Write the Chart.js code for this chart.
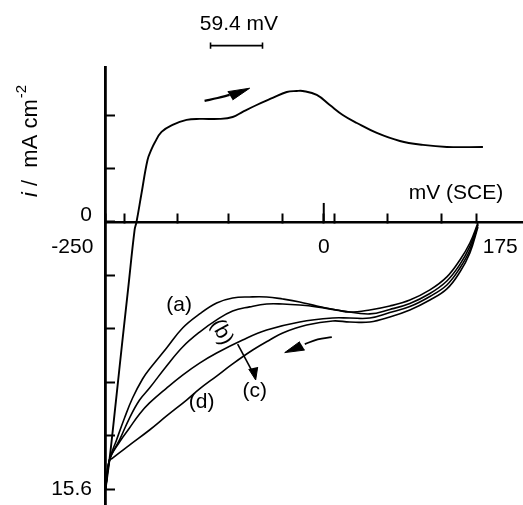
<!DOCTYPE html>
<html><head><meta charset="utf-8">
<style>html,body{margin:0;padding:0;background:#fff;}canvas{display:block;}</style>
<script src="https://cdn.jsdelivr.net/npm/chart.js"></script>
</head><body>
<canvas id="c" width="523" height="505"></canvas>
<script>
// ---------- data (potential in mV vs SCE, current density in mA cm^-2) ----------
const forwardMV = [-249.4, -244.9, -237.4, -230.0, -223.7, -216.2, -214.0, -208.2, -201.4, -196.8, -193.4, -185.4, -172.8, -156.8, -141.9, -119.0, -104.1, -92.7, -76.7, -58.4, -42.3, -30.9, -24.0, -8.0, 6.9, 21.7, 37.8, 60.6, 87.0, 113.3, 140.7, 181.9];
const forwardI  = [-15.60, -13.90, -10.40, -6.89, -3.97, -0.47, 0, 1.69, 3.62, 4.25, 4.61, 5.26, 5.67, 5.96, 6.02, 6.02, 6.13, 6.43, 6.83, 7.24, 7.59, 7.65, 7.65, 7.42, 6.83, 6.25, 5.78, 5.20, 4.73, 4.50, 4.38, 4.38];

const aMV = [-249.4, -244.9, -236.8, -227.7, -218.5, -207.1, -199.1, -179.6, -161.3, -141.9, -122.4, -104.1, -84.7, -65.2, -46.9, -27.5, -8.0, 14.9, 29.7, 52.6, 75.5, 98.4, 121.3, 140.7, 155.6, 167.0, 176.2];
const aI  = [-15.60, -13.90, -12.73, -11.45, -10.28, -9.17, -8.59, -7.36, -6.19, -5.37, -4.73, -4.44, -4.38, -4.38, -4.50, -4.67, -4.91, -5.14, -5.26, -5.14, -4.91, -4.56, -3.97, -3.21, -2.22, -1.23, -0.06];

const bMV = [-249.4, -244.9, -233.4, -222.0, -210.5, -199.1, -179.6, -161.3, -141.9, -122.4, -104.1, -84.7, -65.2, -46.9, -27.5, -8.0, 21.7, 52.6, 75.5, 98.4, 121.3, 140.7, 155.6, 167.0, 176.2];
const bI  = [-15.60, -13.90, -12.73, -11.45, -10.40, -9.70, -8.41, -7.30, -6.43, -5.72, -5.20, -4.96, -4.79, -4.79, -4.85, -4.96, -5.20, -5.37, -5.11, -4.76, -4.18, -3.45, -2.48, -1.43, -0.12];

const cMV = [-249.4, -244.9, -233.4, -222.0, -210.5, -199.1, -179.6, -161.3, -141.9, -122.4, -92.7, -65.2, -27.5, 10.3, 29.7, 52.6, 75.5, 98.4, 121.3, 140.7, 155.6, 167.0, 176.2];
const cI  = [-15.60, -13.90, -12.85, -12.03, -11.21, -10.57, -9.70, -8.94, -8.24, -7.65, -6.89, -6.31, -5.84, -5.61, -5.61, -5.61, -5.29, -4.94, -4.35, -3.68, -2.69, -1.64, -0.18];

const dMV = [-249.4, -244.9, -241.4, -222.0, -199.1, -179.6, -156.8, -141.9, -122.4, -104.1, -81.2, -61.8, -46.9, -19.5, 10.3, 29.7, 52.6, 75.5, 98.4, 121.3, 140.7, 155.6, 167.0, 176.2];
const dI  = [-15.60, -13.96, -13.79, -13.03, -12.15, -11.33, -10.40, -9.75, -9.00, -8.29, -7.48, -6.89, -6.48, -6.02, -5.78, -5.84, -5.84, -5.55, -5.14, -4.56, -3.91, -2.92, -1.81, -0.29];

// axis ticks
const xTickValues = [175, -227.5, -167, -108.5, -47, 0, 12.5, 73, 134, -250];
const xTickLabelValues = [-250, 0, 175];
const yTickValues = [-15.6, -12.48, -9.36, -6.24, -3.12, 0, 3.12, 6.24];
const yTickLabelValues = [0, -15.6];

// scale bar: 59.4 mV
const scaleBarStartMV = -129.4;
const scaleBarLengthMV = 59.4;
const scaleBarLevelI = 10.3;

// sweep-direction arrows (shaft points, head triangle) in mV / mA cm^-2
const fwdArrowShaftMV = [-136.2, -121.3, -107.6];
const fwdArrowShaftI  = [7.07, 7.24, 7.42];
const fwdArrowHeadMV  = [-109.8, -84.7, -104.1];
const fwdArrowHeadI   = [7.61, 7.81, 7.13];
const revArrowShaftMV = [9.2, -6.9, -21.7];
const revArrowShaftI  = [-6.72, -6.86, -7.13];
const revArrowHeadMV  = [-27.5, -44.6, -21.7];
const revArrowHeadI   = [-6.99, -7.63, -7.48];
const cArrowShaftMV   = [-98.4, -80.1];
const cArrowShaftI    = [-7.13, -8.88];
const cArrowHeadMV    = [-85.8, -77.8, -75.5];
const cArrowHeadI     = [-8.59, -9.23, -8.47];

// ---------- texts ----------
const curveLabels = ['(a)', '(b)', '(c)', '(d)'];
const notes = [
  {text: '(a)', x: -165.3, y: -4.85, rot: 0},
  {text: '(b)', x: -116.7, y: -6.43, rot: 62},
  {text: '(c)', x: -78.9, y: -9.87, rot: 0},
  {text: '(d)', x: -139.6, y: -10.51, rot: 0},
  {text: 'mV (SCE)', x: 151, y: 1.69, rot: 0},
  {text: '59.4 mV', x: -97, y: 11.54, rot: 0}
];

const FONT = "'Liberation Sans', Arial, Helvetica, sans-serif";
const FS = 21;
const TITLE_FS = 22;

const toXY = (xs, ys) => xs.map((v, i) => ({x: v, y: ys[i]}));
const lineDs = (data, w, extra) => Object.assign({
  data, showLine: true, borderColor: '#000', backgroundColor: '#000', borderWidth: w,
  pointRadius: 0, pointHoverRadius: 0, fill: false, clip: false, tension: 0.4
}, extra || {});

const bar = [
  {x: scaleBarStartMV, y: scaleBarLevelI + 0.18}, {x: scaleBarStartMV, y: scaleBarLevelI - 0.18}, {x: scaleBarStartMV, y: null},
  {x: scaleBarStartMV, y: scaleBarLevelI}, {x: scaleBarStartMV + scaleBarLengthMV, y: scaleBarLevelI}, {x: scaleBarStartMV + scaleBarLengthMV, y: null},
  {x: scaleBarStartMV + scaleBarLengthMV, y: scaleBarLevelI + 0.18}, {x: scaleBarStartMV + scaleBarLengthMV, y: scaleBarLevelI - 0.18}
];

const datasets = [
  lineDs(toXY(forwardMV, forwardI), 1.9, {label: 'forward'}),
  lineDs(toXY(aMV, aI), 1.6, {label: curveLabels[0]}),
  lineDs(toXY(bMV, bI), 1.6, {label: curveLabels[1]}),
  lineDs(toXY(cMV, cI), 1.6, {label: curveLabels[2]}),
  lineDs(toXY(dMV, dI), 1.6, {label: curveLabels[3]}),
  lineDs(bar, 1.6, {label: 'scale bar', tension: 0, spanGaps: false}),
  lineDs([{x: 0, y: 0}, {x: 0, y: 1.11}], 2, {label: 'zero tick', tension: 0}),
  lineDs(toXY(fwdArrowShaftMV, fwdArrowShaftI), 2.2, {label: 'arrow1'}),
  lineDs(toXY(fwdArrowHeadMV, fwdArrowHeadI), 1, {label: 'head1', tension: 0, fill: 'shape'}),
  lineDs(toXY(revArrowShaftMV, revArrowShaftI), 1.8, {label: 'arrow2'}),
  lineDs(toXY(revArrowHeadMV, revArrowHeadI), 1, {label: 'head2', tension: 0, fill: 'shape'}),
  lineDs(toXY(cArrowShaftMV, cArrowShaftI), 1.6, {label: 'arrow3', tension: 0}),
  lineDs(toXY(cArrowHeadMV, cArrowHeadI), 1, {label: 'head3', tension: 0, fill: 'shape'})
];

const textPlugin = {
  id: 'texts',
  afterDraw(chart) {
    const {ctx, scales: {x, y}} = chart;
    ctx.save();
    ctx.fillStyle = '#000';
    ctx.textAlign = 'center';
    ctx.textBaseline = 'middle';
    ctx.font = FS + 'px ' + FONT;
    notes.forEach(n => {
      ctx.save();
      ctx.translate(x.getPixelForValue(n.x), y.getPixelForValue(n.y));
      ctx.rotate(n.rot * Math.PI / 180);
      ctx.fillText(n.text, 0, 0);
      ctx.restore();
    });
    // y-axis title: i / mA cm^-2 (rotated)
    ctx.save();
    ctx.translate(37, 197);
    ctx.rotate(-Math.PI / 2);
    ctx.textAlign = 'left';
    ctx.textBaseline = 'alphabetic';
    ctx.font = 'italic ' + TITLE_FS + 'px ' + FONT;
    ctx.fillText('i', 0, 0);
    let w = ctx.measureText('i').width;
    ctx.font = TITLE_FS + 'px ' + FONT;
    const main = ' /  mA cm';
    ctx.fillText(main, w, 0);
    w += ctx.measureText(main).width;
    ctx.font = Math.round(TITLE_FS * 0.68) + 'px ' + FONT;
    ctx.fillText('-2', w + 1, -TITLE_FS * 0.5);
    ctx.restore();
    ctx.restore();
  }
};

new Chart(document.getElementById('c'), {
  type: 'scatter',
  data: {datasets},
  options: {
    responsive: false,
    animation: false,
    devicePixelRatio: 1,
    layout: {padding: {top: 67, left: 0, right: 0, bottom: 0}},
    plugins: {legend: {display: false}, tooltip: {enabled: false}},
    scales: {
      x: {
        type: 'linear',
        min: -250, max: 227.7,
        position: {y: 0},
        afterBuildTicks: s => { s.ticks = xTickValues.map(v => ({value: v})); },
        afterFit: s => { s.height = 0; s.paddingLeft = 0; s.paddingRight = 0; s.paddingTop = 0; s.paddingBottom = 0; },
        grid: {drawOnChartArea: false, drawTicks: true, tickLength: -10, tickColor: '#000', tickWidth: 2},
        border: {display: true, color: '#000', width: 2.5},
        ticks: {
          autoSkip: false, maxRotation: 0, minRotation: 0, align: 'inner', padding: 23,
          color: '#000', font: {family: FONT, size: FS},
          callback: v => xTickLabelValues.includes(v) ? (v === -250 ? '-250  ' : (v === 175 ? ' 175' : String(v))) : ''
        }
      },
      y: {
        type: 'linear',
        min: -16.53, max: 9.05,
        position: 'left',
        afterBuildTicks: s => { s.ticks = yTickValues.map(v => ({value: v})); },
        afterFit: s => { s.width = 105; s.paddingTop = 0; s.paddingBottom = 0; s.paddingLeft = 0; s.paddingRight = 0; },
        grid: {drawOnChartArea: false, drawTicks: true, tickLength: -10, tickColor: '#000', tickWidth: 2},
        border: {display: true, color: '#000', width: 2.8},
        ticks: {
          autoSkip: false, padding: 23, color: '#000',
          font: ctx => (ctx.tick && ctx.tick.value === 0) ? {family: FONT, size: FS, lineHeight: '14px'} : {family: FONT, size: FS},
          callback: v => v === 0 ? ['0', ''] : (yTickLabelValues.includes(v) ? String(Math.abs(v)) : '')
        }
      }
    }
  },
  plugins: [textPlugin]
});
</script>
</body></html>
